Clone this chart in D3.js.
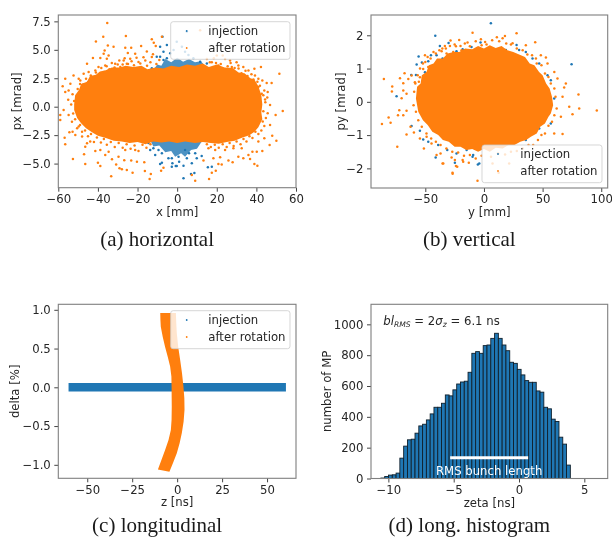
<!DOCTYPE html>
<html>
<head>
<meta charset="utf-8">
<script src="https://cdn.jsdelivr.net/npm/d3@7"></script>
<style>
  html, body { margin: 0; padding: 0; background: #fff; }
  svg { display: block; filter: blur(0.35px); }
</style>
</head>
<body>
<div id="chart"></div>
<script>
var blue = "#1f77b4";
var orange = "#ff7f0e";

var legendNames = ["injection", "after rotation"];

// (a) horizontal: dense core outlines and the stray particles, [x mm, px mrad]
var horizOrangeCore = [[-52,0.2],[-51.5,1],[-49.5,1.5],[-48.5,2],[-45.5,2.2],[-44,2.7],[-41,2.8],[-39,3.1],[-36,3.2],[-33,3.45],[-29,3.45],[-26,3.6],[-22,3.5],[-18,3.6],[-15,3.3],[-11,3.45],[-7,3.35],[-3,3.6],[1,3.5],[5,3.7],[9,3.6],[13,3.8],[16,3.5],[20,3.7],[24,3.45],[28,3.4],[31,3],[34,2.95],[37,2.5],[39,2.4],[41,1.8],[42.5,1],[43,0.2],
  [42.5,-0.5],[43,-1.1],[41,-1.8],[39,-2.2],[36.5,-2.5],[33,-2.7],[29,-3],[25,-3.1],[21,-3.25],[17,-3.2],[13,-3.1],[9,-3.2],[4,-3.05],[0,-3.2],[-4,-3.05],[-8,-3.15],[-12,-3.05],[-16,-3.3],[-20,-3.1],[-24,-3.2],[-28,-3.05],[-32,-3],[-36,-2.75],[-40,-2.55],[-43,-2.25],[-46,-1.9],[-48.5,-1.45],[-50.5,-1],[-52,-0.3]];
var horizBlueTop = [[-13,3],[-10,3.7],[-8,3.6],[-6,4.2],[-3,3.9],[0,4.3],[3,3.95],[6,4.2],[9,3.9],[12,4],[15,3.4]];
var horizBlueBottom = [[-14,-2.8],[-12,-3.5],[-9,-3.4],[-6,-4],[-3,-3.9],[-1,-4.4],[2,-4.1],[4,-4.4],[7,-3.8],[10,-3.7],[13,-2.9]];
var horizBlue = [[3.2,-6.3],[8.7,-5.83],[7,-5.92],[15.5,-5.33],[17.5,-5.27],[-0.7,-5.21],[3.2,-5.18],[1,-4.83],[7.4,-4.98],[9.9,-4.54],[4.9,-4.54],[0.7,-4.4],[12.4,-4.33],[6,-4.1],[4,-3.8],[9.1,-4.1],[-7.7,-4.92],[-8.6,-5.04],[-2.7,-5.27],[-0.2,-5.21],[-2.4,-4.98],[-4.4,-4.54],[-11.1,-4.24],[-13.6,-3.8],[-7.7,-4.1],[-2.7,-4.54],[-14.5,-3.2],[-12,-3.66],[-9.4,-3.8],
  [4.9,6.6],[-7.4,6.15],[-5.2,5.42],[-8.6,5.27],[-6.9,4.83],[-3.5,4.69],[-10.3,4.39],[-8.6,4.39],[-12.8,3.37],[-14.5,3.07],[11.6,3.95],[8.2,4.25],[15,3.8],[-5.2,4.25],[-6.9,4.1],[-1.8,4.98],[-0.2,5.71],[2.4,5.27],[4,4.83],[5.7,4.54]];
var horizOrange = [[-35.3,7.35],[-37.3,6.15],[-41,5.74],[-25.9,6.21],[-35,5.39],[-32.1,5.27],[-26.2,5.19],[-23.2,5.19],[-18.2,5.33],[-12.8,5.92],[-11.8,5.62],[-7.7,6.15],[-36.6,4.95],[-37.1,4.66],[-42.5,4.28],[-38.8,4.28],[-34.6,4.51],[-35.5,4.22],[-24.9,4.72],[-21.2,4.66],[-15.3,4.86],[-10.8,5.33],[-45.5,3.78],[-39.7,3.49],[-36.3,3.63],[-31.3,3.78],[-27,4.07],[-23.7,4.22],[-56.5,2.46],[-57.8,1.8],[-49.7,2.46],[-52.3,2.75],[-53.9,2.02],[-44.7,3.05],[-41.3,3.19],[-34.6,3.19],[-19.5,3.93],[-16.1,4.07],[-12.8,4.36],[-56.5,1.29],[-54.8,1.43],[-47.2,2.9],[-48.9,2.31],[-28.7,3.49],[-25.4,3.78],[-19.5,3.34],
  [42.3,3.49],[39,3.34],[51.6,2.9],[45.2,2.08],[47.7,2.08],[45.7,1.29],[44,1.43],[20,4.5],[24.2,4.2],[26.7,4.07],[30.9,3.63],[33.4,3.49],[36,3.19],[39.3,2.75],[41,2.46],[30,3.9],[17.5,3.9],[15,4.2],[20.8,3.63],[27.6,3.49],[41.8,0.76],[41,1.73],[44.4,0.64],[42.7,1.14],[11.6,6.73],
  [-33.3,-6.12],[-52.6,-4.6],[-56.5,-3.3],[-56.8,-2.72],[-54.4,-2.25],[-52.8,-2.2],[-46.4,-5.04],[-47,-4.19],[-40,-4.92],[-38.8,-5.21],[-29.1,-5.42],[-27.9,-5.5],[-25.4,-5.56],[-22.5,-5.8],[-16.3,-5.65],[-13.3,-5.92],[-13.9,-6.36],[-8.1,-5.62],[-6.9,-5.36],[-46.4,-3.51],[-41.3,-3.9],[-36.3,-4.24],[-32.9,-4.63],[-30.8,-5.07],[-26.7,-4.7],[-23.2,-4.74],[-20.3,-4.83],[-16.6,-4.89],[-43.9,-3.07],[-38.8,-3.8],[-34.6,-3.95],[-29.6,-4.39],[-26.2,-3.8],[-21.2,-3.8],[-51.4,-2.49],[-48,-2.63],[-45.5,-3.22],[-59,-0.73],[-59,-1.17],[-57.3,-0.29],[-54.8,-0.73],[-53.1,-1.32],[-49.7,-1.75],
  [53.3,-0.38],[50.1,-2.99],[48,-2.55],[46.7,-3.37],[43,-3.89],[40.5,-5.18],[39,-5.04],[36.8,-4.6],[33.4,-4.54],[28,-4.89],[25.9,-4.74],[22.5,-5.07],[20.8,-5.04],[19.5,-5.62],[17.5,-5.8],[16.1,-6.35],[9.1,-6.5],[7.4,-6],[13.3,-4.74],[18.3,-4.54],[21.7,-4.45],[30.9,-4.39],[36,-4.25],[38,-3.95],[40.2,-3.95],[44,-2.78],[41,-3.07],[46.9,-1.61],[49.7,-0.73],[45.7,-0.58],[46.9,0.15],[43.2,-1.31],[24.2,-3.8],[28.4,-3.66],[32.6,-3.66],[19.2,-3.8],[15.8,-3.66],
  [-50.2,1.55],[-49,2],[-47.4,1.95],[-46,2.45],[-45,2.15],[-43.6,2.75],[-42.2,2.5],[-41,3],[-39.5,2.85],[-38.3,3.4],[-36.8,3.05],[-35.6,3.55],[-34.2,3.3],[-33,3.85],[-31.6,3.45],[-30,3.7],[-29.2,4.05],[-27.5,3.7],[-26.5,4.25],[-24.8,3.75],[-23,4],[-21.8,3.65],[-20.5,4.3],[-18.6,3.8],[-17,4.35],[-15.2,3.6],[-13.5,3.9],[-12.2,4.6],[-10.5,3.75],[-9,4.1],
  [16.5,3.9],[18.5,4.25],[19.6,3.85],[22,3.75],[23,4.5],[25.5,3.55],[27,3.85],[29,3.4],[31,3.35],[32.5,2.95],[34.5,3.15],[35.5,2.7],[37.5,2.85],[38.5,2.4],[40.5,2.2],[41.8,1.85],[43,2.3],[43.5,1],[44.5,0.4],[45.5,0.8],
  [43.5,-0.4],[44.8,-1],[44,-1.7],[42.5,-2.1],[41,-2.4],[39.5,-2.2],[38,-2.75],[36.5,-2.6],[35,-3.05],[33.5,-2.85],[32,-3.3],[30,-3.05],[28.5,-3.45],[26.5,-3.2],[25,-3.55],[23,-3.3],[21,-3.6],[19,-3.35],[17,-3.55],[15,-3.3],
  [-13.5,-3.3],[-15.5,-3.6],[-17.5,-3.35],[-19.5,-3.9],[-21.5,-3.4],[-23.5,-3.7],[-25.5,-3.3],[-27.5,-3.6],[-29.5,-3.2],[-31.5,-3.55],[-33.5,-3.1],[-35.5,-3.35],[-37,-2.85],[-38.5,-3.15],[-40.5,-2.7],[-42,-3.1],[-43.5,-2.4],[-45,-2.6],[-46.5,-2.1],[-48,-2.2],[-49,-1.6],[-50.5,-1.9],[-51.5,-1.1],[-52.5,-0.6],[-52,0.5],[-53.5,0.2],[-52.8,1.1],[-55,0.6]];

// (b) vertical, [y mm, py mrad]
var vertOrangeCore = [[-58,0.1],[-57,0.45],[-54,0.55],[-53,0.8],[-49,0.9],[-47,1.1],[-43,1.15],[-40,1.3],[-35,1.3],[-31,1.45],[-26,1.5],[-21,1.5],[-16,1.6],[-10,1.58],[-5,1.68],[0,1.6],[5,1.7],[10,1.62],[15,1.68],[20,1.55],[25,1.5],[30,1.42],[35,1.35],[39,1.15],[43,1.1],[47,0.9],[50,0.8],[53,0.55],[56,0.4],[58,0.15],[59,-0.1],
  [57,-0.35],[55,-0.45],[52,-0.65],[48,-0.75],[45,-0.95],[40,-1.05],[36,-1.15],[31,-1.2],[26,-1.3],[21,-1.3],[16,-1.4],[10,-1.38],[5,-1.5],[0,-1.42],[-5,-1.5],[-10,-1.42],[-15,-1.45],[-20,-1.35],[-25,-1.35],[-30,-1.2],[-35,-1.15],[-39,-1],[-44,-0.9],[-48,-0.7],[-52,-0.55],[-56,-0.3]];
var vertBlue = [[-41.5,1.99],[-37.6,1.68],[-30.2,1.77],[-55.7,1.36],[-45.2,1.4],[-52.9,1.18],[-57.4,1.12],[-47.5,1.22],[-62,0.81],[-74.5,0.17],[-58,0.81],[-40.4,1.4],[-23.4,1.52],[-18.2,1.58],[-10.6,1.65],[-2.9,1.78],[-7.7,1.55],[-35.3,1.3],[-43.2,1.05],[-50.3,0.89],
  [-41.2,-1.67],[-5.2,-1.88],[-24.8,-1.83],[-31.3,-1.45],[-39,-1.3],[-51.8,-1.13],[-54.6,-0.87],[-61.7,-0.73],[-23.4,-1.55],[-9.2,-1.6],[-14.8,-1.45],[-47.5,-1.2],
  [74.7,1.13],[5.9,2.36],[27.8,1.71],[35.7,1.5],[47.1,1.15],[57,0.65],[59.9,0.1],[57,-0.65],[47.1,-0.8],[35.7,-1.15],[-4,-1.85],[-9.7,-1.65],[10.2,1.5],[3.1,1.4],[18.7,1.56],[30,1.56],[54.2,0.8],[41.4,1.3]];
var vertOrange = [[-85.3,0.69],[-78.2,0.46],[-78.5,0.31],[-71.6,0.71],[-67.7,0.86],[-68.8,0.56],[-64.5,0.69],[-61.7,0.79],[-58.9,0.59],[-68.8,0.34],[-70.2,0.11],[-66,0.24],[-54.6,0.74],[-51.8,0.99],[-47.5,1.05],[-36.1,1.52],[-33.3,1.68],[-28.5,1.84],[-21.1,1.86],[-16.3,1.75],[-23.9,1.67],[-9.7,2.08],[-12,1.67],[-2,1.7],[2.2,1.72],[-31.9,1.45],[-26.2,1.5],[-19.1,1.55],[-50.3,1.4],
  [-87,-0.67],[-81.3,-0.47],[-79.6,-0.63],[-73.9,-1.35],[-68.8,-0.4],[-73.3,-0.4],[-72.2,-0.25],[-66,-0.27],[-62.6,-0.75],[-59.7,-0.92],[-66,-0.98],[-51.2,-1.4],[-34.7,-1.85],[-26.8,-2.13],[-22.8,-1.95],[-5.5,-2.37],[-40.4,-1.6],[-37,-1.55],[-27.6,-1.67],[-24.8,-1.75],[-17.7,-1.8],[-12.9,-1.83],[-44.7,-1.25],[-54.6,-1.1],[-48.9,-1.05],
  [96.2,-0.26],[80.6,0.22],[81.2,-0.2],[75.5,-0.37],[67,-0.97],[72.7,-0.15],[68.4,0.43],[69.8,0.55],[60,0.9],[48.5,1.4],[43.7,1.79],[27.8,2.06],[17.9,1.98],[15.9,1.91],[11,1.94],[-2.6,1.88],[54.2,1.15],[62.7,0.7],[67,0.15],[65.6,-0.45],[59.9,-0.95],[52.8,1.33],[35.7,1.7],[24.4,1.76],[44.3,1.3],[-26.7,-2.16],[-23.9,-1.93],[12.5,-2.13],[-35.3,-1.85],[-18.2,-1.75],[7.3,-1.85],[21.5,-1.85],
  [-59.5,0.3],[-58.5,0.55],[-56.5,0.8],[-55.5,0.6],[-54.5,1],[-52,1.15],[-50,1.2],[-48,1.35],[-45.5,1.3],[-43,1.5],[-41,1.45],[-38,1.55],[-35.5,1.6],[-32.5,1.6],[-29,1.68],[-25,1.72],[-20,1.68],[-14,1.78],[-7,1.82],[1,1.8],[7,1.85],[13,1.82],[19,1.75],[23,1.72],[28,1.6],[33,1.55],[37,1.42],[41,1.4],[45,1.15],[49,1.1],[52,0.85],[55,0.75],[57,0.55],[60,0.4],[61,0.15],[62,-0.2],[60,-0.4],[58,-0.6],[55,-0.72],[52,-0.95],[49,-1],[46,-1.15],[42,-1.3],[38,-1.3],[33,-1.4],[28,-1.48],[23,-1.5],[18,-1.58],[12,-1.55],[6,-1.65],[-2,-1.62],[-7,-1.7],[-12,-1.6],[-17,-1.62],[-22,-1.52],[-27,-1.5],[-32,-1.4],[-37,-1.3],[-41,-1.2],[-45,-1.1],[-49,-0.95],[-53,-0.75],[-56,-0.55],[-58,-0.3],[-60,-0.1]];

// (c) longitudinal, [z ns, delta %]
var longBlueBand = [[-60.4,0.054],[60.5,0.054],[60.5,-0.054],[-60.4,-0.054]];
var longOrangeBand = [[-9.4,0.96],[-9.3,0.87],[-9.1,0.78],[-8,0.65],[-6.7,0.52],[-5.2,0.39],[-3.9,0.27],[-3.2,0.14],[-3.1,0.01],[-3,-0.25],[-3.1,-0.42],[-3.5,-0.55],[-4.8,-0.68],[-6.7,-0.81],[-8.8,-0.94],[-10.7,-1.06],[-4.3,-1.09],[-2.2,-0.97],[-0.2,-0.85],[1.4,-0.72],[2.6,-0.59],[3.6,-0.44],[4.1,-0.29],[4,-0.14],[3.5,0.01],[2.7,0.18],[1.7,0.35],[0.6,0.52],[-0.2,0.7],[-0.5,0.83],[-0.7,0.96]];

// (d) histogram, 50 bins
var zetaStart = -10.57;
var zetaBinWidth = 0.29;
var zetaCounts = [3,13,22,24,35,132,210,251,255,294,341,352,380,419,462,462,488,542,536,575,613,626,631,689,812,823,812,862,866,909,942,909,866,829,754,747,708,672,635,624,624,568,560,462,452,385,370,268,223,87];
var rmsBar = [-5.27, 0.7];
var rmsBarCount = 134;

var horizXTicks = [-60,-40,-20,0,20,40,60];
var horizYTicks = [-5,-2.5,0,2.5,5,7.5];
var vertXTicks = [-50,0,50,100];
var vertYTicks = [-2,-1,0,1,2];
var longXTicks = [-50,-25,0,25,50];
var longYTicks = [-1,-0.5,0,0.5,1];
var histXTicks = [-10,-5,0,5];
var histYTicks = [0,200,400,600,800,1000];

var svg = d3.select("#chart").append("svg")
  .attr("width", 612)
  .attr("height", 537)
  .style("font-family", "'DejaVu Sans'")
  .style("font-size", "11.7px");

function minusFormat(digits) {
  var f = d3.format(digits);
  return function(d) { return f(d).replace("-", "\u2212"); };
}

function makeAxes(o) {
  var x = d3.scaleLinear().domain(o.xDomain).range([o.left, o.right]);
  var y = d3.scaleLinear().domain(o.yDomain).range([o.bottom, o.top]);
  var g = svg.append("g");
  var marks = g.append("g");

  var axisX = g.append("g")
    .attr("transform", "translate(0," + o.bottom + ")")
    .call(d3.axisBottom(x).tickValues(o.xTicks).tickSize(4).tickPadding(3).tickFormat(minusFormat("d")));
  var axisY = g.append("g")
    .attr("transform", "translate(" + o.left + ",0)")
    .call(d3.axisLeft(y).tickValues(o.yTicks).tickSize(4).tickPadding(3.5).tickFormat(minusFormat(o.yFormat)));
  [axisX, axisY].forEach(function(a) {
    a.select(".domain").remove();
    a.selectAll("line").attr("stroke", "#444").attr("stroke-width", 1);
    a.selectAll("text").attr("fill", "#262626").style("font-size", "11.7px").style("font-family", "'DejaVu Sans'");
  });

  g.append("rect")
    .attr("x", o.left)
    .attr("y", o.top)
    .attr("width", o.right - o.left)
    .attr("height", o.bottom - o.top)
    .attr("fill", "none")
    .attr("stroke", "#7f7f7f")
    .attr("stroke-width", 1.1);

  g.append("text")
    .attr("x", (o.left + o.right) / 2)
    .attr("y", o.bottom + 28)
    .attr("text-anchor", "middle")
    .attr("fill", "#262626")
    .text(o.xLabel);
  g.append("text")
    .attr("transform", "translate(" + o.yLabelX + "," + (o.top + o.bottom) / 2 + ") rotate(-90)")
    .attr("text-anchor", "middle")
    .attr("fill", "#262626")
    .text(o.yLabel);
  svg.append("text")
    .attr("x", (o.left + o.right) / 2 - 20)
    .attr("y", o.captionY)
    .attr("text-anchor", "middle")
    .attr("fill", "#1a1a1a")
    .style("font-family", "'Liberation Serif'")
    .style("font-size", "21px")
    .text(o.caption);

  return { x: x, y: y, marks: marks, g: g };
}

function drawBand(p, pts, color, opacity) {
  var line = d3.line()
    .x(function(d) { return p.x(d[0]); })
    .y(function(d) { return p.y(d[1]); })
    .curve(d3.curveLinearClosed);
  p.marks.append("path").attr("d", line(pts)).attr("fill", color).attr("fill-opacity", opacity);
}

function drawPoints(p, pts, color) {
  p.marks.append("g").selectAll("circle")
    .data(pts)
    .enter().append("circle")
    .attr("cx", function(d) { return p.x(d[0]); })
    .attr("cy", function(d) { return p.y(d[1]); })
    .attr("r", 1.25)
    .attr("fill", color);
}

function drawLegend(p, box, textX, rows, markerX) {
  p.g.append("rect")
    .attr("x", box[0])
    .attr("y", box[1])
    .attr("width", box[2] - box[0])
    .attr("height", box[3] - box[1])
    .attr("rx", 2.5)
    .attr("fill", "rgba(255,255,255,0.8)")
    .attr("stroke", "#ccc")
    .attr("stroke-opacity", 0.8);
  legendNames.forEach(function(name, i) {
    p.g.append("circle")
      .attr("cx", markerX)
      .attr("cy", rows[i] - 4)
      .attr("r", 0.9)
      .attr("fill", i == 0 ? blue : orange);
    p.g.append("text")
      .attr("x", textX)
      .attr("y", rows[i])
      .attr("fill", "#262626")
      .text(name);
  });
}

function main() {
  var a = makeAxes({
    left: 58.3, right: 296, top: 15, bottom: 187.7,
    xDomain: [-60, 60], yDomain: [-7.12, 8.06],
    xTicks: horizXTicks, yTicks: horizYTicks, yFormat: ".1f",
    xLabel: "x [mm]", yLabel: "px [mrad]", yLabelX: 21,
    caption: "(a) horizontal", captionY: 246
  });
  drawBand(a, horizBlueTop, blue, 0.8);
  drawBand(a, horizBlueBottom, blue, 0.8);
  drawPoints(a, horizBlue, blue);
  drawBand(a, horizOrangeCore, orange, 1);
  drawPoints(a, horizOrange, orange);
  drawLegend(a, [170.7, 21.7, 290, 59.3], 208.3, [35, 52], 186.7);

  var b = makeAxes({
    left: 371, right: 607.7, top: 15, bottom: 188,
    xDomain: [-96.3, 105.5], yDomain: [-2.59, 2.61],
    xTicks: vertXTicks, yTicks: vertYTicks, yFormat: "d",
    xLabel: "y [mm]", yLabel: "py [mrad]", yLabelX: 345,
    caption: "(b) vertical", captionY: 246
  });
  drawPoints(b, vertBlue, blue);
  drawBand(b, vertOrangeCore, orange, 1);
  drawPoints(b, vertOrange, orange);
  drawLegend(b, [482, 145, 602, 182.7], 520.3, [158, 175], 498);

  var c = makeAxes({
    left: 58.3, right: 296, top: 304.3, bottom: 478.3,
    xDomain: [-66.1, 66.1], yDomain: [-1.174, 1.071],
    xTicks: longXTicks, yTicks: longYTicks, yFormat: ".1f",
    xLabel: "z [ns]", yLabel: "delta [%]", yLabelX: 19,
    caption: "(c) longitudinal", captionY: 532
  });
  drawBand(c, longBlueBand, blue, 1);
  drawBand(c, longOrangeBand, orange, 1);
  drawLegend(c, [170.7, 310.7, 290, 348.7], 208.3, [324, 341], 186.7);

  var d = makeAxes({
    left: 371, right: 607.7, top: 304.3, bottom: 478.5,
    xDomain: [-11.33, 6.79], yDomain: [0, 1130],
    xTicks: histXTicks, yTicks: histYTicks, yFormat: "d",
    xLabel: "zeta [ns]", yLabel: "number of MP", yLabelX: 331,
    caption: "(d) long. histogram", captionY: 532
  });
  d.marks.selectAll("rect")
    .data(zetaCounts)
    .enter().append("rect")
    .attr("x", function(v, i) { return d.x(zetaStart + i * zetaBinWidth); })
    .attr("y", function(v) { return d.y(v); })
    .attr("width", d.x(zetaBinWidth) - d.x(0))
    .attr("height", function(v) { return d.y(0) - d.y(v); })
    .attr("fill", blue)
    .attr("stroke", "#10202c")
    .attr("stroke-width", 0.9);
  d.marks.append("line")
    .attr("x1", d.x(rmsBar[0]))
    .attr("x2", d.x(rmsBar[1]))
    .attr("y1", d.y(rmsBarCount))
    .attr("y2", d.y(rmsBarCount))
    .attr("stroke", "#fff")
    .attr("stroke-width", 3);
  d.marks.append("text")
    .attr("x", d.x((rmsBar[0] + rmsBar[1]) / 2))
    .attr("y", d.y(rmsBarCount) + 17)
    .attr("text-anchor", "middle")
    .attr("fill", "#fff")
    .text("RMS bunch length");

  var note = d.g.append("text").attr("x", 383.3).attr("y", 325).attr("fill", "#262626");
  note.append("tspan").style("font-style", "italic").text("bl");
  note.append("tspan").attr("dy", 2).style("font-style", "italic").style("font-size", "7.6px").text("RMS");
  note.append("tspan").attr("dy", -2).text(" = 2");
  note.append("tspan").style("font-style", "italic").text("\u03c3");
  note.append("tspan").attr("dy", 2).style("font-style", "italic").style("font-size", "7.6px").text("z");
  note.append("tspan").attr("dy", -2).text(" = 6.1 ns");
}

main();
</script>
</body>
</html>
